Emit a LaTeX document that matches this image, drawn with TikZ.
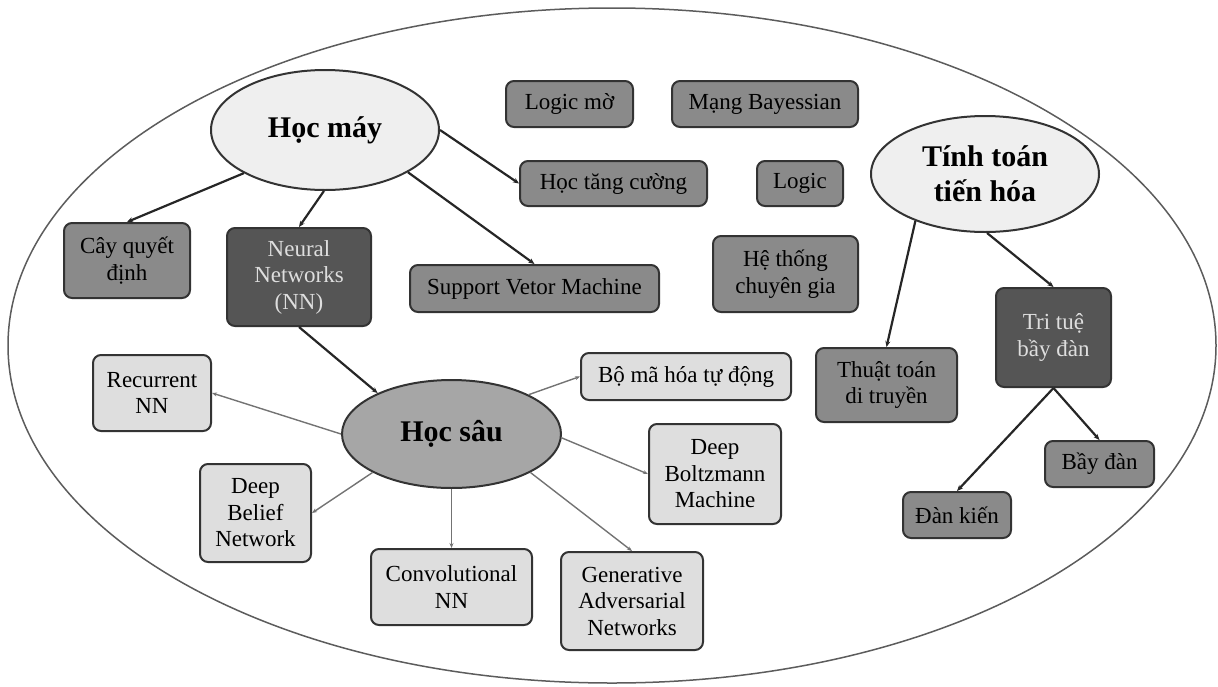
\documentclass[tikz,border=0pt]{standalone}
\usepackage{fontspec}
\setmainfont{Liberation Serif}
\usepackage{tikz}
\usetikzlibrary{arrows.meta,shapes.geometric}
\definecolor{edge}{HTML}{333333}
\definecolor{midgray}{HTML}{8A8A8A}
\definecolor{darkgray}{HTML}{555555}
\definecolor{lightgray}{HTML}{DEDEDE}
\definecolor{palegray}{HTML}{EFEFEF}
\definecolor{deepgray}{HTML}{A6A6A6}
\newcommand{\boxfont}{\fontsize{23}{26.5}\selectfont}
\newcommand{\topicfont}{\fontsize{30}{35}\selectfont\bfseries}

\begin{document}
\begin{tikzpicture}[
  x=1pt, y=-1pt,
  base/.style={draw=edge, line width=2pt, rounded corners=8pt, align=center, inner sep=0pt, font=\boxfont},
  mid/.style={base, fill=midgray},
  dark/.style={base, fill=darkgray, text=lightgray},
  light/.style={base, fill=lightgray},
  topic/.style={draw=edge, line width=2pt, ellipse, align=center, inner sep=0pt, font=\topicfont, fill=palegray},
  arr/.style={-{Stealth[length=6pt,width=5pt]}, line width=2.2pt, draw=black!85},
  thinarr/.style={-{Stealth[length=5pt,width=4pt]}, line width=1.4pt, draw=black!55}
]
\useasboundingbox (0,0) rectangle (1218,686);
\node[draw=edge!80, line width=1.5pt, ellipse, minimum width=1208, minimum height=675, inner sep=0pt] (frame) at (612,345.5) {};

% machine learning branch
\node[topic, minimum width=228, minimum height=120] (hocmay) at (325,130) {Học máy};
\node[mid, minimum width=126, minimum height=75] (cay) at (127,260.5) {Cây quyết\\định};
\node[dark, minimum width=144, minimum height=98] (nn) at (299,277) {Neural\\Networks\\(NN)};
\node[mid, minimum width=249, minimum height=47] (svm) at (534.5,288.5) {Support Vetor Machine};
\node[mid, minimum width=187, minimum height=45] (tangcuong) at (613.5,183.5) {Học tăng cường};

% standalone topics
\node[mid, minimum width=127, minimum height=46] (logicmo) at (569.5,104) {Logic mờ};
\node[mid, minimum width=186, minimum height=46] (bayes) at (765,104) {Mạng Bayessian};
\node[mid, minimum width=86, minimum height=45] (logic) at (800,183.5) {Logic};
\node[mid, minimum width=145, minimum height=76] (chuyengia) at (785.5,274) {Hệ thống\\chuyên gia};

% evolutionary computing branch
\node[topic, minimum width=228, minimum height=116] (tinhtoan) at (985,174) {Tính toán\\tiến hóa};
\node[mid, minimum width=141, minimum height=74] (thuattoan) at (886.5,385) {Thuật toán\\di truyền};
\node[dark, minimum width=115, minimum height=99] (baydantt) at (1053.5,337.5) {Tri tuệ\\bầy đàn};
\node[mid, minimum width=109, minimum height=46] (baydan) at (1099.5,464) {Bầy đàn};
\node[mid, minimum width=108, minimum height=46] (dankien) at (957,515) {Đàn kiến};

% deep learning branch
\node[topic, fill=deepgray, minimum width=219, minimum height=108] (hocsau) at (451.5,434) {Học sâu};
\node[light, minimum width=118, minimum height=76] (recurrent) at (152,393) {Recurrent\\NN};
\node[light, minimum width=111, minimum height=98] (belief) at (255.5,513) {Deep\\Belief\\Network};
\node[light, minimum width=161, minimum height=76] (conv) at (451.5,587) {Convolutional\\NN};
\node[light, minimum width=142, minimum height=98] (gan) at (632,601) {Generative\\Adversarial\\Networks};
\node[light, minimum width=132, minimum height=100] (boltzmann) at (715,474) {Deep\\Boltzmann\\Machine};
\node[light, minimum width=210, minimum height=47] (bomahoa) at (686,376.5) {Bộ mã hóa tự động};

\draw[arr] (hocmay.208) -- (cay.north);
\draw[arr] (hocmay.269) -- (nn.north);
\draw[arr] (hocmay.-27) -- (svm.north);
\draw[arr] (hocmay.east) -- (tangcuong.west);
\draw[arr] (nn.south) -- (hocsau.151);
\draw[arr] (tinhtoan.214) -- (thuattoan.north);
\draw[arr] (tinhtoan.272) -- (baydantt.north);
\draw[arr] (baydantt.south) -- (dankien.north);
\draw[arr] (baydantt.south) -- (baydan.north);

\draw[thinarr] (hocsau.west) -- (recurrent.east);
\draw[thinarr] (hocsau.206) -- (belief.east);
\draw[thinarr] (hocsau.south) -- (conv.north);
\draw[thinarr] (hocsau.-26) -- (gan.north);
\draw[thinarr] (hocsau.-2) -- (boltzmann.west);
\draw[thinarr] (hocsau.27) -- (bomahoa.west);
\end{tikzpicture}
\end{document}
